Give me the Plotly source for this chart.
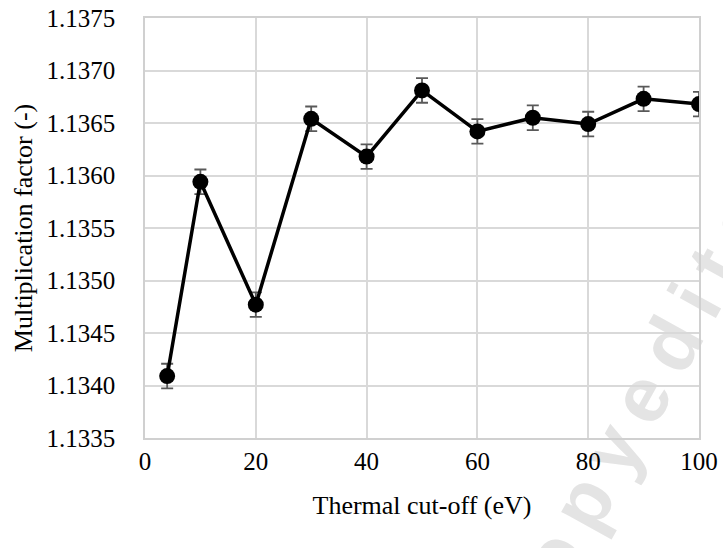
import plotly.graph_objects as go

cutoff_ev = [4, 10, 20, 30, 40, 50, 60, 70, 80, 90, 100]
mult_factor = [1.13409, 1.13594, 1.13477, 1.13654, 1.13618, 1.13681,
               1.13642, 1.13655, 1.13649, 1.13673, 1.13668]
mult_err = [0.000117, 0.000117, 0.000117, 0.000117, 0.000117, 0.000117,
            0.000117, 0.000117, 0.000117, 0.000117, 0.000117]

x_ticks = [0, 20, 40, 60, 80, 100]
y_ticks = [1.1335, 1.1340, 1.1345, 1.1350, 1.1355, 1.1360, 1.1365, 1.1370, 1.1375]
y_tick_text = ["%.4f" % v for v in y_ticks]
watermark = "\u2009".join("copyedited")

FONT = "Liberation Serif, Times New Roman, serif"
GRID = "#d9d9d9"

fig = go.Figure()
fig.add_trace(go.Scatter(
    x=cutoff_ev, y=mult_factor, mode="lines+markers",
    line=dict(color="black", width=3.5),
    marker=dict(color="black", size=16),
    error_y=dict(type="data", array=mult_err, visible=True,
                 color="#595959", thickness=1.8, width=6),
    showlegend=False,
))

fig.add_shape(
    type="rect", xref="paper", yref="paper",
    x0=0.893, x1=0.893, y0=0.125, y1=0.125,
    line=dict(width=0), layer="below",
    label=dict(text=watermark, textangle=-61, textposition="middle center",
               font=dict(family="Liberation Sans, Arial, sans-serif", size=78,
                         color="#e4e4e4", weight="bold")),
)

fig.update_layout(
    width=723, height=548, autosize=False,
    margin=dict(l=145, r=11, t=5, b=110),
    paper_bgcolor="white", plot_bgcolor="rgba(0,0,0,0)",
    font=dict(family=FONT, size=25, color="black"),
)
fig.update_xaxes(
    range=[0, 100], tickvals=x_ticks, showgrid=True, gridcolor=GRID, gridwidth=1.5,
    showline=True, mirror=True, linecolor="#d0d0d0", linewidth=1.5,
    zeroline=False, ticks="", ticklabelstandoff=0, ticklabeloverflow="allow",
    title=dict(text="Thermal cut-off (eV)", font=dict(size=26), standoff=22),
)
fig.update_yaxes(
    range=[1.1335, 1.1375], tickvals=y_ticks, ticktext=y_tick_text,
    showgrid=True, gridcolor=GRID, gridwidth=1.5,
    showline=True, mirror=True, linecolor="#d0d0d0", linewidth=1.5,
    zeroline=False, ticks="", ticklabelstandoff=23, ticklabeloverflow="allow",
    title=dict(text="Multiplication factor (-)", font=dict(size=26), standoff=6),
)

fig.write_html(
    "out.html",
    config={"responsive": False, "displayModeBar": False},
    post_script="document.body.style.margin='0';document.body.style.overflow='hidden';",
)
